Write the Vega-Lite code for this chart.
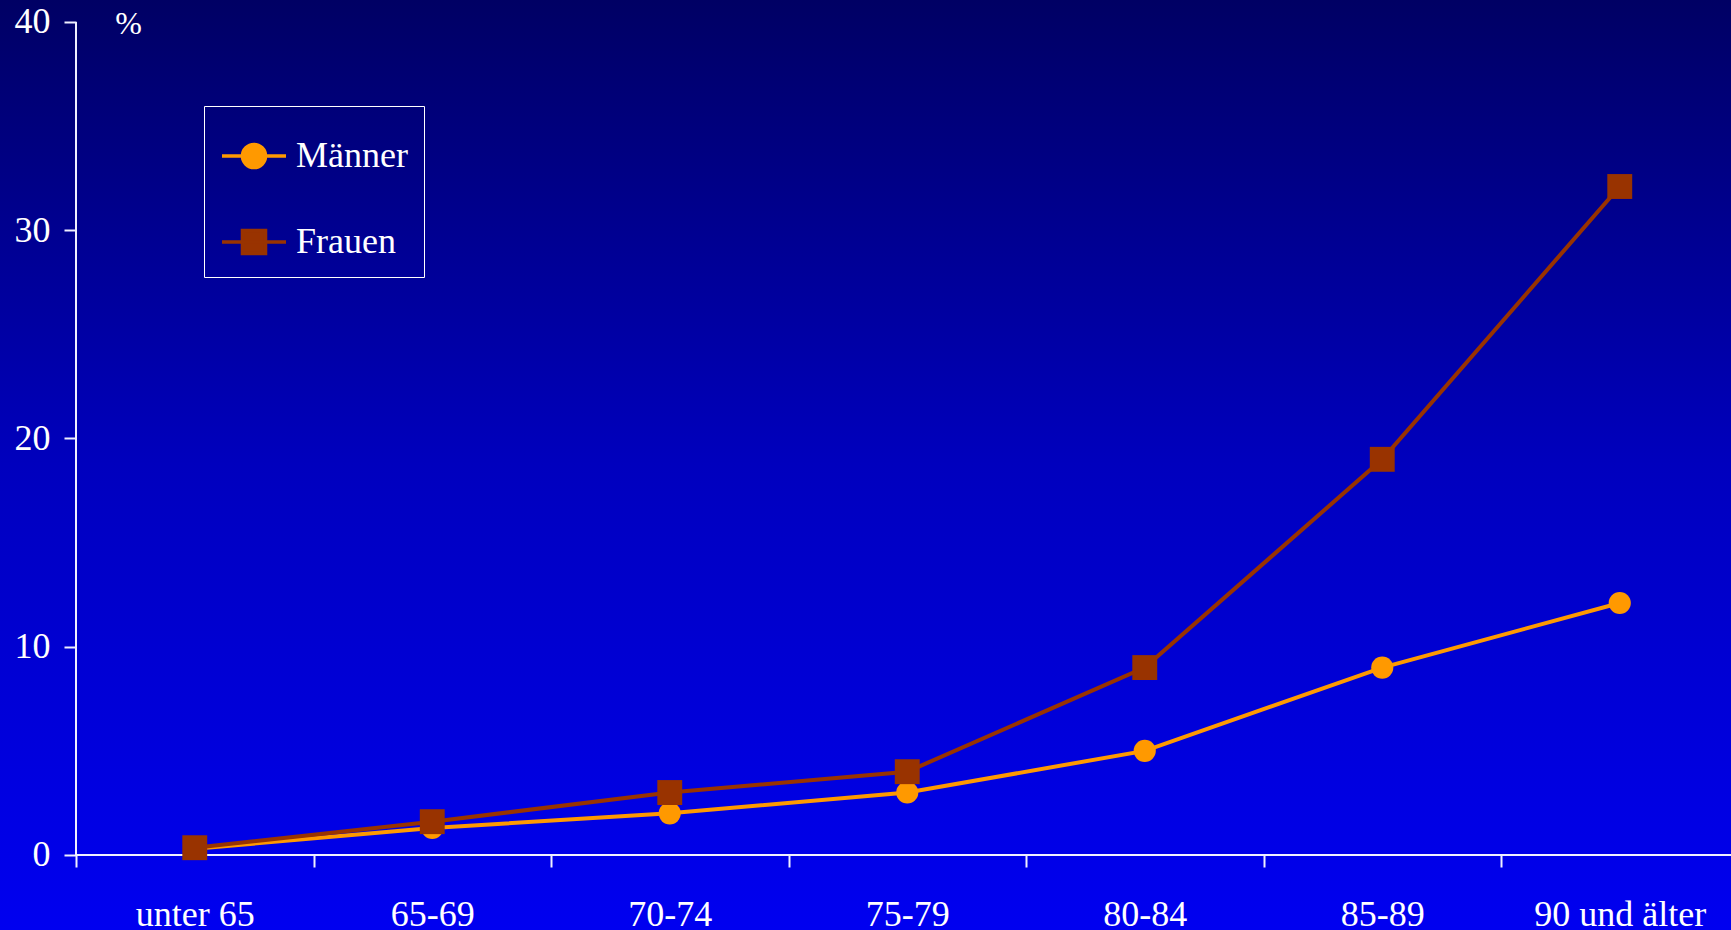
{
  "$schema": "https://vega.github.io/schema/vega-lite/v6.json",
  "width": 1731,
  "height": 930,
  "autosize": {"type": "none"},
  "padding": 0,
  "background": "#0000C0",
  "config": {
    "view": {"stroke": null, "fill": {"gradient": "linear", "x1": 0, "y1": 0, "x2": 0, "y2": 1, "stops": [{"offset": 0, "color": "#000064"}, {"offset": 0.5, "color": "#0000BE"}, {"offset": 1, "color": "#0000F0"}]}},
    "font": "Liberation Serif"
  },
  "datasets": {
    "werte": [
      {"alter": "unter 65", "geschlecht": "Männer", "prozent": 0.3},
      {"alter": "65-69", "geschlecht": "Männer", "prozent": 1.3},
      {"alter": "70-74", "geschlecht": "Männer", "prozent": 2.0},
      {"alter": "75-79", "geschlecht": "Männer", "prozent": 3.0},
      {"alter": "80-84", "geschlecht": "Männer", "prozent": 5.0},
      {"alter": "85-89", "geschlecht": "Männer", "prozent": 9.0},
      {"alter": "90 und älter", "geschlecht": "Männer", "prozent": 12.1},
      {"alter": "unter 65", "geschlecht": "Frauen", "prozent": 0.35},
      {"alter": "65-69", "geschlecht": "Frauen", "prozent": 1.6},
      {"alter": "70-74", "geschlecht": "Frauen", "prozent": 3.0},
      {"alter": "75-79", "geschlecht": "Frauen", "prozent": 4.0},
      {"alter": "80-84", "geschlecht": "Frauen", "prozent": 9.0},
      {"alter": "85-89", "geschlecht": "Frauen", "prozent": 19.0},
      {"alter": "90 und älter", "geschlecht": "Frauen", "prozent": 32.1}
    ],
    "achsen": [
      {"von": "unter 65", "bis": "90 und älter", "unten": 0, "oben": 40}
    ]
  },
  "data": {"name": "werte"},
  "encoding": {
    "x": {
      "field": "alter",
      "type": "nominal",
      "scale": {"type": "band", "domain": ["unter 65", "65-69", "70-74", "75-79", "80-84", "85-89", "90 und älter"], "paddingInner": 0, "paddingOuter": 0, "range": [76, 1738.5]},
      "axis": {
        "title": null,
        "offset": -75,
        "labelAngle": 0,
        "labelFont": "Liberation Serif",
        "labelFontSize": 36,
        "labelColor": "white",
        "labelBaseline": "alphabetic",
        "labelPadding": 58,
        "domain": false,
        "tickColor": "#F0F0FF",
        "tickWidth": 2,
        "tickSize": 12,
        "tickBand": "extent",
        "grid": false
      }
    },
    "y": {
      "field": "prozent",
      "type": "quantitative",
      "scale": {"domain": [-3.6015, 41.056], "nice": false, "zero": false},
      "axis": {
        "values": [0, 10, 20, 30, 40],
        "offset": -76,
        "title": "%",
        "titleAngle": 0,
        "titleX": 52,
        "titleY": 33,
        "titleAlign": "center",
        "titleBaseline": "alphabetic",
        "titleFont": "Liberation Serif",
        "titleFontSize": 32,
        "titleFontWeight": "normal",
        "titleColor": "white",
        "labelFont": "Liberation Serif",
        "labelFontSize": 36,
        "labelColor": "white",
        "labelPadding": 14,
        "labelFlush": false,
        "domain": false,
        "tickColor": "#F0F0FF",
        "tickWidth": 2,
        "tickSize": 12,
        "grid": false
      }
    }
  },
  "layer": [
    {
      "data": {"name": "achsen"},
      "mark": {"type": "rule", "color": "#F0F0FF", "strokeWidth": 2},
      "encoding": {
        "x": {"field": "von", "type": "nominal", "bandPosition": 0},
        "y": {"field": "unten", "type": "quantitative"},
        "y2": {"field": "oben"}
      }
    },
    {
      "data": {"name": "achsen"},
      "mark": {"type": "rule", "color": "#F0F0FF", "strokeWidth": 2},
      "encoding": {
        "x": {"field": "von", "type": "nominal", "bandPosition": 0},
        "x2": {"field": "bis", "bandPosition": 1},
        "y": {"field": "unten", "type": "quantitative"}
      }
    },
    {
      "mark": {"type": "line", "strokeWidth": 4},
      "encoding": {
        "color": {
          "field": "geschlecht",
          "type": "nominal",
          "scale": {"domain": ["Männer", "Frauen"], "range": ["#FF9900", "#993300"]},
          "legend": {
            "title": null,
            "orient": "none",
            "legendX": 204,
            "legendY": 106,
            "direction": "vertical",
            "padding": 16,
            "strokeColor": "white",
            "labelFont": "Liberation Serif",
            "labelFontSize": 36,
            "labelColor": "white",
            "labelOffset": 8,
            "symbolSize": 4096,
            "rowPadding": 33,
            "symbolStrokeWidth": 3.5,
            "encode": {
              "symbols": {
                "update": {
                  "shape": {"signal": "datum.value === 'Männer' ? 'M-1,0H1M0.36,0A0.36,0.36 0 1,1 -0.36,0A0.36,0.36 0 1,1 0.36,0Z' : 'M-1,0H1M-0.36,-0.36H0.36V0.36H-0.36Z'"},
                  "fill": {"scale": "color", "field": "value"},
                  "stroke": {"scale": "color", "field": "value"},
                  "strokeWidth": {"value": 3.5},
                  "size": {"value": 4096},
                  "opacity": {"value": 1},
                  "fillOpacity": {"value": 1}
                }
              }
            }
          }
        }
      }
    },
    {
      "transform": [{"filter": "datum.geschlecht === 'Männer'"}],
      "mark": {"type": "point", "shape": "circle", "filled": true, "opacity": 1, "size": 490},
      "encoding": {"color": {"field": "geschlecht", "type": "nominal"}}
    },
    {
      "transform": [{"filter": "datum.geschlecht === 'Frauen'"}],
      "mark": {"type": "point", "shape": "square", "filled": true, "opacity": 1, "size": 620},
      "encoding": {"color": {"field": "geschlecht", "type": "nominal"}}
    }
  ]
}
